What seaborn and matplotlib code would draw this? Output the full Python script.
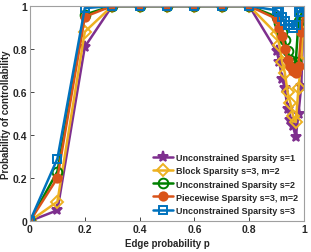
import matplotlib
matplotlib.use('Agg')
import matplotlib.pyplot as plt
import seaborn as sns
import pandas as pd

# edge probabilities (dense sampling near 1)
p = [0, 0.1, 0.2, 0.3, 0.4, 0.5, 0.6, 0.7, 0.8, 0.9,
     0.91, 0.92, 0.93, 0.94, 0.95, 0.96, 0.97, 0.98, 0.99, 1.0]

uncon_s1 = [0, 0.05, 0.81, 1, 1, 1, 1, 1, 1, 0.79,
            0.74, 0.66, 0.62, 0.52, 0.47, 0.44, 0.39, 0.50, 0.63, 1.0]
block_s3 = [0, 0.09, 0.88, 1, 1, 1, 1, 1, 1, 0.87,
            0.82, 0.74, 0.69, 0.60, 0.55, 0.49, 0.46, 0.62, 0.74, 1.0]
uncon_s2 = [0, 0.23, 0.96, 1, 1, 1, 1, 1, 1, 0.95,
            0.92, 0.88, 0.84, 0.79, 0.75, 0.73, 0.74, 0.93, 0.96, 1.0]
piece_s3 = [0, 0.20, 0.95, 1, 1, 1, 1, 1, 1, 0.94,
            0.90, 0.86, 0.80, 0.75, 0.72, 0.70, 0.69, 0.72, 0.88, 1.0]
uncon_s3 = [0, 0.29, 0.99, 1, 1, 1, 1, 1, 1, 0.98,
            0.97, 0.95, 0.93, 0.91, 0.91, 0.90, 0.91, 0.97, 0.99, 1.0]

labels = ['Unconstrained Sparsity s=1', 'Block Sparsity s=3, m=2',
          'Unconstrained Sparsity s=2', 'Piecewise Sparsity s=3, m=2',
          'Unconstrained Sparsity s=3']
series = [uncon_s1, block_s3, uncon_s2, piece_s3, uncon_s3]
colors = ['#7E2F8E', '#EDB120', '#008000', '#D95319', '#0072BD']
markers = ['*', 'D', 'o', 'o', 's']
filled = [True, False, False, True, False]
msizes = [8, 6, 7, 6, 6]

sns.set_style('white')
plt.rcParams['font.family'] = ['Liberation Sans', 'DejaVu Sans']
plt.rcParams['font.weight'] = 'bold'

fig = plt.figure(figsize=(3.11, 2.53), dpi=100)
ax = fig.add_axes([30 / 311, 31 / 253, 274 / 311, 215 / 253])

for lab, vals, c, m, f, ms in zip(labels, series, colors, markers, filled, msizes):
    df = pd.DataFrame({'p': p, 'prob': vals})
    sns.lineplot(data=df, x='p', y='prob', ax=ax, color=c, lw=1.8,
                 marker=m, markersize=ms, markeredgewidth=1.4,
                 markeredgecolor=c, markerfacecolor=c if f else 'none',
                 label=lab)

ax.set_xlim(0, 1)
ax.set_ylim(0, 1)
ticks = [0, 0.2, 0.4, 0.6, 0.8, 1]
ticklabels = ['0', '0.2', '0.4', '0.6', '0.8', '1']
ax.set_xticks(ticks)
ax.set_xticklabels(ticklabels)
ax.set_yticks(ticks)
ax.set_yticklabels(ticklabels)
ax.tick_params(direction='in', length=3, width=0.6, labelsize=7.5,
               colors='#262626', pad=2, top=False, right=False,
               bottom=True, left=True)
for s in ax.spines.values():
    s.set_color('#a0a0a0')
    s.set_linewidth(0.8)
for lbl in ax.get_xticklabels() + ax.get_yticklabels():
    lbl.set_fontweight('bold')

ax.set_xlabel('Edge probability p', fontsize=7, fontweight='bold',
              color='#262626', labelpad=3)
ax.set_ylabel('Probability of controllability', fontsize=7,
              fontweight='bold', color='#262626', labelpad=1)

leg = ax.legend(loc='lower right', bbox_to_anchor=(1.0, 0.0), frameon=False,
                fontsize=6.5, handlelength=2.2, handletextpad=0.25,
                labelspacing=0.45, borderaxespad=0.3)
for t in leg.get_texts():
    t.set_fontweight('bold')

fig.savefig('out.png', dpi=100)
